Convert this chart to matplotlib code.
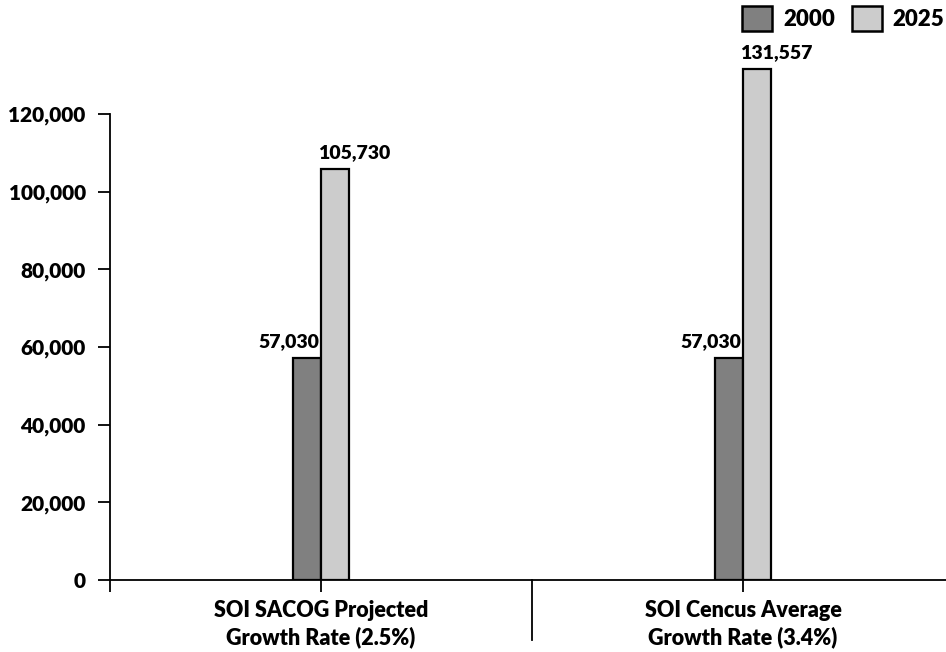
"""Projected SOI population, 2000 vs 2025, under two growth-rate assumptions."""

import matplotlib

matplotlib.use("Agg")
import matplotlib.pyplot as plt
from matplotlib.patches import Patch

plt.rcParams["font.family"] = ["Lato", "DejaVu Sans"]
plt.rcParams["font.weight"] = "heavy"

scenarios = ["SOI SACOG Projected\nGrowth Rate (2.5%)", "SOI Cencus Average\nGrowth Rate (3.4%)"]
years = ["2000", "2025"]
pop_2000 = [57030, 57030]
pop_2025 = [105730, 131557]
yticks = [0, 20000, 40000, 60000, 80000, 100000, 120000]

DARK, LIGHT = "#808080", "#cccccc"
W, H, DPI = 946, 652, 100

fig = plt.figure(figsize=(W / DPI, H / DPI), dpi=DPI)
# axis runs past the right edge of the figure, like the printed original
ax = fig.add_axes([110 / W, 72 / H, 844 / W, 536 / H])

centers = [0.5 + i for i in range(len(scenarios))]
bw = 0.067
b0 = ax.bar([c - bw / 2 for c in centers], pop_2000, bw, color=DARK, edgecolor="black", linewidth=1.6)
b1 = ax.bar([c + bw / 2 for c in centers], pop_2025, bw, color=LIGHT, edgecolor="black", linewidth=1.6)

for r, v in zip(b0, pop_2000):
    ax.annotate(f"{v:,}", (r.get_x() + r.get_width(), v), xytext=(-2, 8), textcoords="offset pixels",
                ha="right", va="bottom", fontsize=14, fontweight="heavy")
for r, v in zip(b1, pop_2025):
    ax.annotate(f"{v:,}", (r.get_x(), v), xytext=(-3, 8), textcoords="offset pixels",
                ha="left", va="bottom", fontsize=14, fontweight="heavy")

ax.set_xlim(0, len(scenarios))
ax.set_ylim(0, 138000)
ax.set_yticks(yticks)
ax.set_yticklabels([f"{t:,}" for t in yticks], fontsize=15, fontweight="heavy")
ax.set_xticks(centers)
ax.set_xticklabels(scenarios, fontsize=15.5, fontweight="heavy", linespacing=1.3)
ax.set_xticks([0], minor=True)
ax.tick_params(axis="x", which="both", length=8.5, width=1.3, pad=6)
ax.tick_params(axis="y", length=8.5, width=1.3, pad=9)
for s in ("top", "right"):
    ax.spines[s].set_visible(False)
ax.spines["left"].set_bounds(0, yticks[-1])
ax.spines["left"].set_linewidth(1.3)
ax.spines["bottom"].set_linewidth(1.3)
# long separator between the two scenarios
ax.axvline(1, ymin=-60 / 536, ymax=0, color="black", linewidth=1.3, clip_on=False)

handles = [Patch(facecolor=DARK, edgecolor="black", linewidth=1.8),
           Patch(facecolor=LIGHT, edgecolor="black", linewidth=1.8)]
fig.legend(handles, years, loc="upper left", bbox_to_anchor=(742 / W, 1 - 6 / H), ncol=2, frameon=False,
           prop={"size": 16, "weight": "heavy"}, handlelength=1.35, handleheight=1.35,
           handletextpad=0.5, columnspacing=0.75, borderpad=0, borderaxespad=0)

fig.savefig("out.png", dpi=DPI)
